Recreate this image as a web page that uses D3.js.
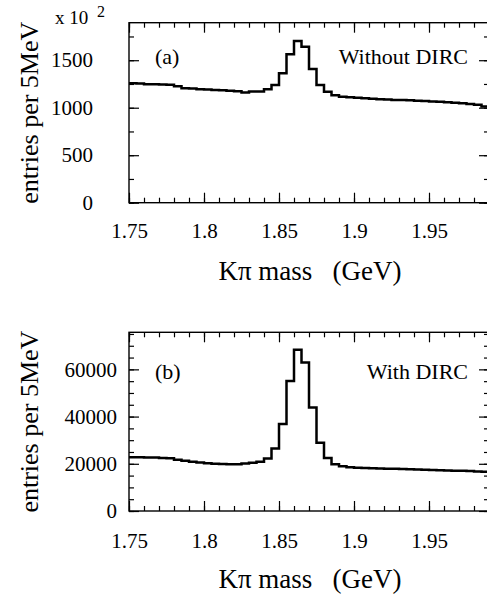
<!DOCTYPE html>
<html>
<head>
<meta charset="utf-8">
<script src="https://cdn.jsdelivr.net/npm/d3@7"></script>
<style>
  body { margin: 0; background: #fff; }
  svg { display: block; font-family: "Liberation Serif", "Times New Roman", serif; }
</style>
</head>
<body>
<div id="chart"></div>
<script>
// bin edges: 5 MeV bins from 1.75 GeV
var binStart = 1.75;
var binWidth = 0.005;

// (a) without DIRC, entries in units of 10^2
var withoutDirc = [1257, 1255, 1248, 1246, 1245, 1243, 1225, 1206, 1202, 1195, 1192, 1187,
    1185, 1178, 1174, 1160, 1172, 1170, 1194, 1239, 1362, 1562, 1702, 1642,
    1407, 1239, 1168, 1130, 1115, 1110, 1106, 1100, 1094, 1090, 1086, 1082,
    1080, 1078, 1074, 1070, 1066, 1062, 1058, 1052, 1046, 1040, 1030, 1012];

// (b) with DIRC
var withDirc = [22750, 22750, 22700, 22700, 22400, 22300, 21700, 21300, 20900, 20500, 20200, 20000,
    19900, 19850, 19850, 20100, 20400, 20900, 22200, 26500, 36900, 55100, 68300, 62900,
    43800, 28900, 22500, 19800, 19000, 18500, 18300, 18200, 18100, 18000, 17950, 17900,
    17800, 17700, 17600, 17500, 17400, 17300, 17200, 17100, 17000, 16900, 16750, 16600];

var xTicks = [1.75, 1.8, 1.85, 1.9, 1.95];
var yTicksA = [0, 500, 1000, 1500];
var yTicksB = [0, 20000, 40000, 60000];

var svg = d3.select("#chart")
    .append("svg")
    .attr("width", 487)
    .attr("height", 600);

function drawPanel(opt) {
    var width = 360, height = opt.height;
    var g = svg.append("g")
        .attr("transform", "translate(" + opt.left + "," + opt.top + ")");

    var x = d3.scaleLinear().domain([1.75, 1.99]).range([0, width]);
    var y = d3.scaleLinear().domain([0, opt.ymax]).range([height, 0]);

    var minorX = d3.range(0, 25).map(function(i) { return 1.75 + i * 0.01; });
    var minorY = d3.range(0, opt.ymax, opt.minor);

    // minor ticks on all four sides
    g.append("g").attr("transform", "translate(0," + height + ")")
        .call(d3.axisBottom(x).tickValues(minorX).tickSize(-5).tickFormat(""));
    g.append("g")
        .call(d3.axisTop(x).tickValues(minorX).tickSize(-5).tickFormat(""));
    g.append("g")
        .call(d3.axisLeft(y).tickValues(minorY).tickSize(-5).tickFormat(""));
    g.append("g").attr("transform", "translate(" + width + ",0)")
        .call(d3.axisRight(y).tickValues(minorY).tickSize(-5).tickFormat(""));

    // major ticks + labels
    g.append("g").attr("class", "xax").attr("transform", "translate(0," + height + ")")
        .call(d3.axisBottom(x).tickValues(xTicks).tickSize(-10).tickPadding(opt.xpad)
            .tickFormat(d3.format("")));
    g.append("g")
        .call(d3.axisTop(x).tickValues(xTicks).tickSize(-10).tickFormat(""));
    g.append("g").attr("class", "yax")
        .call(d3.axisLeft(y).tickValues(opt.yTicks).tickSize(-10).tickPadding(opt.ypad)
            .tickFormat(d3.format("")));
    g.append("g").attr("transform", "translate(" + width + ",0)")
        .call(d3.axisRight(y).tickValues(opt.yTicks).tickSize(-10).tickFormat(""));

    g.selectAll(".domain").remove();
    g.selectAll(".tick line").attr("stroke", "#000").attr("stroke-width", 1.2);
    g.selectAll(".xax text, .yax text")
        .attr("font-family", "Liberation Serif, Times New Roman, serif")
        .attr("font-size", 21)
        .attr("fill", "#000");

    // frame
    g.append("rect")
        .attr("width", width).attr("height", height)
        .attr("fill", "none").attr("stroke", "#000").attr("stroke-width", 1.4);

    // histogram as step line
    var pts = [];
    opt.data.forEach(function(v, i) {
        var x0 = binStart + i * binWidth;
        pts.push([x0, v]);
        pts.push([x0 + binWidth, v]);
    });
    var line = d3.line()
        .x(function(d) { return x(d[0]); })
        .y(function(d) { return y(d[1]); });
    g.append("path")
        .datum(pts)
        .attr("d", line)
        .attr("fill", "none")
        .attr("stroke", "#000")
        .attr("stroke-width", 2.5)
        .attr("stroke-linejoin", "miter");

    // labels in the plot
    g.append("text")
        .attr("x", 26).attr("y", opt.labelY)
        .attr("font-size", 22)
        .text(opt.tag);
    g.append("text")
        .attr("x", 339).attr("y", opt.labelY)
        .attr("text-anchor", "end")
        .attr("font-size", 22)
        .text(opt.note);

    // axis titles
    g.append("text")
        .attr("transform", "translate(-91," + (height / 2) + ")rotate(-90)")
        .attr("text-anchor", "middle")
        .attr("font-size", 26)
        .text("entries per 5MeV");
    g.append("text")
        .attr("x", 181).attr("y", height + 77)
        .attr("text-anchor", "middle")
        .attr("font-size", 27)
        .style("white-space", "pre")
        .text("K\u03c0 mass   (GeV)");
}

drawPanel({
    top: 22.7, left: 129, height: 180, ymax: 1895, minor: 250,
    data: withoutDirc, yTicks: yTicksA, xpad: 20, ypad: 36,
    tag: "(a)", note: "Without DIRC", labelY: 41.5
});
drawPanel({
    top: 332.3, left: 129, height: 178.7, ymax: 75700, minor: 5000,
    data: withDirc, yTicks: yTicksB, xpad: 22, ypad: 12,
    tag: "(b)", note: "With DIRC", labelY: 46.5
});

// exponent marker for panel (a)
var ex = svg.append("text").attr("x", 55).attr("y", 24).attr("font-size", 19);
ex.append("tspan").text("x 10");
ex.append("tspan").attr("x", 97).attr("y", 16.5).attr("font-size", 16).text("2");
</script>
</body>
</html>
